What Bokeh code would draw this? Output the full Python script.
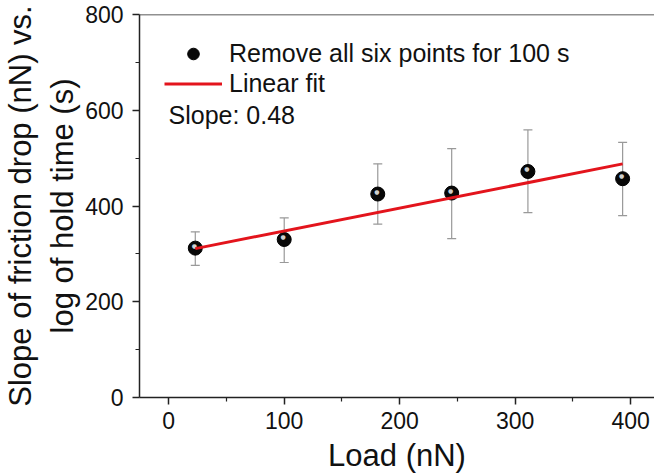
from bokeh.plotting import figure
from bokeh.models import (ColumnDataSource, Whisker, TeeHead, FixedTicker, Legend,
                          LegendItem, Label, Span)
from bokeh.core.properties import value
from bokeh.embed import file_html
from bokeh.resources import INLINE

# ---- data ----
load = [23, 100, 181, 245, 311, 393]
slope_val = [312, 330, 425, 427, 472, 457]
err_upper = [346, 375, 488, 520, 559, 533]
err_lower = [276, 282, 362, 332, 386, 380]
fit_x = [23, 393]
fit_y = [311, 488]
x_ticks = [0, 100, 200, 300, 400]
x_minor = [50, 150, 250, 350]
y_ticks = [0, 200, 400, 600, 800]
y_minor = [100, 300, 500, 700]
legend_points = "Remove all six points for 100 s"
legend_fit = "Linear fit"
slope_text = "Slope: 0.48"

FONT = "Liberation Sans"

p = figure(width=654, height=475, output_backend="svg", toolbar_location=None,
           x_range=(-25.3, 420.6), y_range=(0, 800),
           min_border_left=139, min_border_right=0, min_border_top=14,
           min_border_bottom=76)
p.outline_line_color = None
p.xgrid.visible = False
p.ygrid.visible = False
p.background_fill_color = "white"

src = ColumnDataSource(dict(x=load, y=slope_val, up=err_upper, lo=err_lower))

w = Whisker(base="x", upper="up", lower="lo", source=src,
            line_color="#999999", line_width=1.2,
            upper_head=TeeHead(size=9, line_color="#999999", line_width=1.2),
            lower_head=TeeHead(size=9, line_color="#999999", line_width=1.2))
p.add_layout(w)

pts = p.scatter("x", "y", source=src, size=14, fill_color="#080808",
                line_color="#000000", line_width=1)
# glossy highlight on the spheres (small offset spot)
p.text("x", "y", source=src, text=value("\u25cf"), x_offset=-1, y_offset=-3,
       text_align="center", text_baseline="middle", text_font_size="6px",
       text_color="#cfcfcf", text_font=value("DejaVu Sans"))
fit = p.line(fit_x, fit_y, line_color="#e3141c", line_width=3)

top = Span(location=800, dimension="width", line_color="#222222", line_width=1.5)
p.add_layout(top)

for ax in (p.xaxis[0], p.yaxis[0]):
    ax.axis_line_color = "#222222"
    ax.axis_line_width = 1.5
    ax.major_tick_line_color = "#222222"
    ax.minor_tick_line_color = "#222222"
    ax.major_tick_line_width = 1.5
    ax.minor_tick_line_width = 1.2
    ax.major_tick_in = 0
    ax.major_tick_out = 7
    ax.minor_tick_in = 0
    ax.minor_tick_out = 4
    ax.major_label_text_font = FONT
    ax.major_label_text_font_size = "23px"
    ax.major_label_text_color = "#111111"
    ax.axis_label_text_font = FONT
    ax.axis_label_text_font_style = "normal"
    ax.axis_label_text_color = "#111111"
    ax.axis_label_text_font_size = "31px"

p.xaxis[0].ticker = FixedTicker(ticks=x_ticks, minor_ticks=x_minor)
p.yaxis[0].ticker = FixedTicker(ticks=y_ticks, minor_ticks=y_minor)
p.xaxis[0].axis_label = "Load (nN)"
p.xaxis[0].axis_label_standoff = 6
p.xaxis[0].major_label_standoff = 7
p.yaxis[0].axis_label = "Slope of friction drop (nN) vs.\nlog of hold time (s)"
p.yaxis[0].axis_label_standoff = 2
p.yaxis[0].major_label_standoff = 9

legend = Legend(items=[LegendItem(label=legend_points, renderers=[pts]),
                       LegendItem(label=legend_fit, renderers=[fit])],
                location="top_left", margin=25, padding=2, spacing=1,
                glyph_width=58, glyph_height=29, label_standoff=7,
                label_text_font=FONT, label_text_font_size="25px",
                label_text_color="#111111",
                border_line_color=None, background_fill_alpha=0)
p.add_layout(legend)

lab = Label(x=29, y=283, x_units="screen", y_units="screen", text=slope_text,
            text_font=FONT, text_font_size="25px", text_color="#111111",
            text_baseline="middle")
p.add_layout(lab)

open("out.html", "w").write(file_html(p, INLINE))
